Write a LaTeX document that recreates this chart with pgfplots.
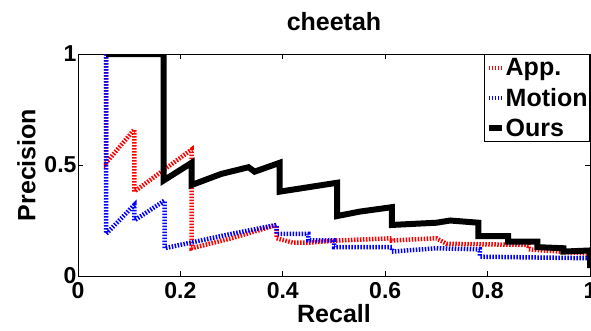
\documentclass[border=0pt]{standalone}
\usepackage{pgfplots}
\pgfplotsset{compat=1.18}
\usepackage{fontspec}
\setmainfont{Liberation Sans}
\newcommand{\tickf}{\fontsize{23}{25}\selectfont\bfseries}
\newcommand{\labf}{\fontsize{25}{27}\selectfont\bfseries}
\begin{document}
\begin{tikzpicture}
\begin{axis}[
  scale only axis, width=512pt, height=222pt,
  xmin=0, xmax=1, ymin=0, ymax=1,
  xtick={0,0.2,0.4,0.6,0.8,1}, ytick={0,0.5,1},
  xticklabels={0,0.2,0.4,0.6,0.8,1}, yticklabels={0,0.5,1},
  tick align=inside, major tick length=5pt,
  tick style={black, line width=0.8pt},
  axis line style={line width=0.8pt},
  ticklabel style={font=\tickf},
  xticklabel style={yshift=-3pt},
  yticklabel style={xshift=2pt},
  /pgf/number format/assume math mode=true,
  title={cheetah}, title style={font=\labf, yshift=14pt},
  xlabel={Recall}, ylabel={Precision},
  label style={font=\labf},
  xlabel style={yshift=1pt},
  ylabel style={yshift=2pt},
  legend style={at={(1,1)}, anchor=north east, font=\labf, inner xsep=1pt, inner ysep=3pt,
    row sep=9pt, draw=black, line width=0.8pt,
    nodes={inner xsep=1pt, inner ysep=1pt}},
  legend cell align=left,
  legend image code/.code={\draw[#1] (0pt,0pt) -- (13pt,0pt);},
]
\addplot[red, line width=4.5pt, dash pattern=on 1.5pt off 1.5pt] coordinates {
(0.055,1) (0.055,0.51) (0.11,0.66) (0.11,0.38) (0.222,0.57) (0.222,0.125)
(0.30,0.17) (0.388,0.23) (0.388,0.17) (0.42,0.15) (0.45,0.15) (0.506,0.16)
(0.613,0.17) (0.613,0.16) (0.70,0.17) (0.72,0.145) (0.88,0.14) (0.88,0.12)
(1,0.10) (1,0.07)};
\addlegendentry{App.}
\addplot[blue, line width=4.5pt, dash pattern=on 1.5pt off 1.5pt] coordinates {
(0.055,1) (0.055,0.19) (0.11,0.32) (0.11,0.25) (0.169,0.34) (0.169,0.125)
(0.30,0.19) (0.388,0.23) (0.388,0.19) (0.45,0.19) (0.45,0.16) (0.50,0.16)
(0.50,0.13) (0.613,0.13) (0.613,0.11) (0.70,0.125) (0.785,0.12) (0.785,0.087)
(1,0.08) (1,0.06)};
\addlegendentry{Motion}
\addplot[black, line width=6pt] coordinates {
(0.055,1) (0.167,1) (0.167,0.43) (0.222,0.51) (0.222,0.41) (0.28,0.46)
(0.333,0.49) (0.345,0.47) (0.394,0.51) (0.394,0.38) (0.45,0.40) (0.506,0.42)
(0.506,0.27) (0.55,0.29) (0.613,0.31) (0.613,0.23) (0.70,0.24) (0.727,0.25)
(0.782,0.24) (0.782,0.18) (0.84,0.18) (0.84,0.155) (0.897,0.155) (0.897,0.13)
(0.948,0.125) (0.948,0.11) (1,0.115) (1,0.035)};
\addlegendentry{Ours}
\end{axis}
\pgfresetboundingbox
\path[use as bounding box] ([shift={(-78pt,-54pt)}]current axis.south west) rectangle ([shift={(1pt,54pt)}]current axis.north east);
\end{tikzpicture}
\end{document}
